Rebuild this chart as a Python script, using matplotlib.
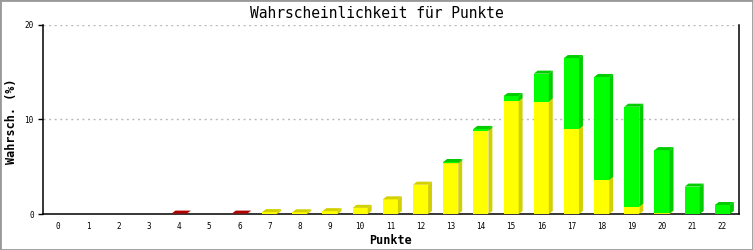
import matplotlib
matplotlib.use("Agg")
import matplotlib.pyplot as plt
from matplotlib.patches import Rectangle

# Punkte 0..22, Wahrscheinlichkeit in % (gestapelt: rot, gelb, gruen)
punkte = list(range(23))
rot = [0, 0, 0, 0, 0.04, 0, 0.04, 0, 0, 0, 0, 0, 0, 0, 0, 0, 0, 0, 0, 0, 0, 0, 0]
gelb = [0, 0, 0, 0, 0, 0, 0, 0.2, 0.18, 0.3, 0.65, 1.55, 3.1, 5.35, 8.8,
        11.95, 11.9, 9.0, 3.6, 0.78, 0.06, 0, 0]
gruen = [0, 0, 0, 0, 0, 0, 0, 0, 0, 0, 0, 0, 0, 0.15, 0.2,
         0.53, 2.95, 7.5, 10.9, 10.57, 6.7, 2.9, 0.95]

serien = [(rot, '#dd0000', '#b00000'),
          (gelb, '#ffff00', '#d2d000'),
          (gruen, '#00ff00', '#00cc00')]

fig = plt.figure(figsize=(7.53, 2.5), dpi=100)
ax = fig.add_axes([43 / 753, 36 / 250, 696 / 753, 189 / 250])

breite = 0.5
dx, dy = 0.13, 0.32   # 3D-Tiefe in Datenkoordinaten


def box(x, unten, hoehe, farbe, dunkel):
    x0 = x - breite / 2
    x1 = x + breite / 2
    oben = unten + hoehe
    ax.bar(x, hoehe, breite, bottom=unten, color=farbe, zorder=3)
    ax.fill([x1, x1 + dx, x1 + dx, x1], [unten, unten + dy, oben + dy, oben],
            color=dunkel, lw=0, zorder=3)
    ax.fill([x0, x1, x1 + dx, x0 + dx], [oben, oben, oben + dy, oben + dy],
            color=dunkel, lw=0, zorder=3)


for i, p in enumerate(punkte):
    unten = 0
    for werte, farbe, dunkel in serien:
        if werte[i] > 0:
            box(p, unten, werte[i], farbe, dunkel)
            unten += werte[i]

ax.set_xlim(-0.507, 22.55)
ax.set_ylim(0, 20)
ax.set_xticks(punkte)
ax.set_xticklabels([str(p) for p in punkte], family='DejaVu Sans Mono', fontsize=5.5)
ax.set_yticks([0, 10, 20])
ax.set_yticklabels(['0', '10', '20'], family='DejaVu Sans Mono', fontsize=5.5)
ax.tick_params(axis='x', length=0, pad=6)
ax.tick_params(axis='y', length=3.6, width=1, pad=3, direction='out')

for y in [10, 20]:
    ax.axhline(y, color='#bbbbbb', lw=1, ls=(0, (1.5, 2.5)), zorder=1)

ax.spines['top'].set_visible(False)
for s in ['left', 'bottom', 'right']:
    ax.spines[s].set_linewidth(1.1)
    ax.spines[s].set_color('black')

fig.text(0.5, 1 - 13 / 250, 'Wahrscheinlichkeit für Punkte', ha='center', va='center',
         family='DejaVu Sans Mono', fontsize=10.5)
fig.text(391 / 753, 1 - 240 / 250, 'Punkte', ha='center', va='center',
         family='DejaVu Sans Mono', fontsize=8.5, fontweight='bold')
fig.text(12 / 753, 1 - 121 / 250, 'Wahrsch. (%)', ha='center', va='center', rotation=90,
         family='DejaVu Sans Mono', fontsize=8.5, fontweight='bold')

fig.patches.append(Rectangle((0, 0), 1, 1, transform=fig.transFigure, fill=False,
                             edgecolor='#999999', lw=2))

fig.savefig('out.png', dpi=100)
